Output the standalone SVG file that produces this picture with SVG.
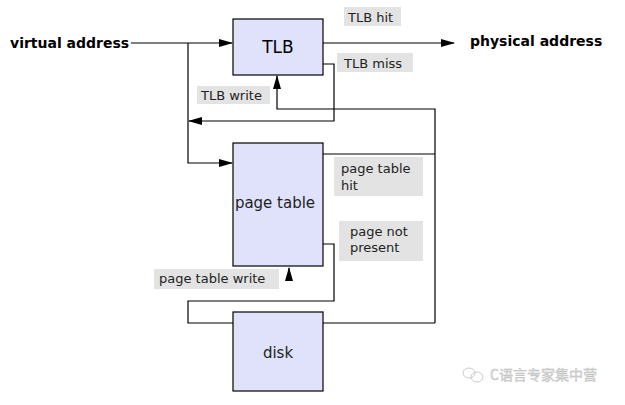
<svg xmlns="http://www.w3.org/2000/svg" width="625" height="405" viewBox="0 0 625 405">
<style>
.box{fill:#e0e2fc;stroke:#000;stroke-width:1.2}
.lbl{fill:#e3e3e3}
.t{font-family:"DejaVu Sans",Verdana,sans-serif;font-size:13px;fill:#222}
.big{font-family:"DejaVu Sans",Verdana,sans-serif;font-size:15px;fill:#222}
.b{font-family:"DejaVu Sans",Verdana,sans-serif;font-size:14px;font-weight:bold;fill:#000}
.ln{fill:none;stroke:#000;stroke-width:1.2}
.wm{font-family:"Noto Sans CJK SC","DejaVu Sans",sans-serif;font-size:14px;fill:#ddd;stroke:#bbb;stroke-width:0.4}
</style>
<defs>
<marker id="ah" markerWidth="14" markerHeight="8" refX="13" refY="4" orient="auto" markerUnits="userSpaceOnUse">
<path d="M0,0 L14,4 L0,8 Z" fill="#000"/>
</marker>
</defs>
<rect width="625" height="405" fill="#fff"/>
<g id="connectors">
<path class="ln" d="M131,43 H232" marker-end="url(#ah)"/>
<path class="ln" d="M323,43 H454" marker-end="url(#ah)"/>
<path class="ln" d="M188,43 V163 H232" marker-end="url(#ah)"/>
<path class="ln" d="M323,64 H334 V121 H189" marker-end="url(#ah)"/>
<path class="ln" d="M435,323 V109 H277 V76" marker-end="url(#ah)"/>
<path class="ln" d="M323,154 H435"/>
<path class="ln" d="M323,323 H435"/>
<path class="ln" d="M323,244 H334 V301 H188 V323 H233"/>
<path class="ln" d="M289,279 V268" marker-end="url(#ah)"/>
</g>
<g id="virtual-address"><text class="b" x="10" y="48">virtual address</text></g>
<g id="physical-address"><text class="b" x="470" y="46">physical address</text></g>
<g id="tlb">
<rect class="box" x="233" y="19" width="90" height="56"/>
<text x="278" y="53" text-anchor="middle" font-family="DejaVu Sans,sans-serif" font-size="17" fill="#000">TLB</text>
</g>
<g id="page-table">
<rect class="box" x="233" y="143" width="90" height="123"/>
<text class="big" x="275" y="208" text-anchor="middle">page table</text>
</g>
<g id="disk">
<rect class="box" x="233" y="312" width="90" height="79"/>
<text class="big" x="278" y="358" text-anchor="middle">disk</text>
</g>
<g id="label-tlb-hit"><rect class="lbl" x="344" y="7" width="57" height="19"/><text class="t" x="348" y="22">TLB hit</text></g>
<g id="label-tlb-miss"><rect class="lbl" x="337" y="53" width="76" height="19"/><text class="t" x="344" y="68">TLB miss</text></g>
<g id="label-tlb-write"><rect class="lbl" x="197" y="86" width="73" height="18"/><text class="t" x="201" y="100">TLB write</text></g>
<g id="label-pt-hit"><rect class="lbl" x="334" y="157" width="89" height="39"/><text class="t" x="341" y="173">page table</text><text class="t" x="341" y="190">hit</text></g>
<g id="label-not-present"><rect class="lbl" x="339" y="221" width="84" height="40"/><text class="t" x="350" y="236">page not</text><text class="t" x="350" y="252">present</text></g>
<g id="label-pt-write"><rect class="lbl" x="154" y="269" width="125" height="20"/><text class="t" x="159" y="283">page table write</text></g>
<g id="watermark">
<ellipse cx="469" cy="373" rx="6" ry="5" fill="none" stroke="#ccc" stroke-width="1"/>
<ellipse cx="477" cy="377" rx="6" ry="5" fill="none" stroke="#ccc" stroke-width="1"/>
<text class="wm" x="490" y="380">C语言专家集中营</text>
</g>
</svg>
